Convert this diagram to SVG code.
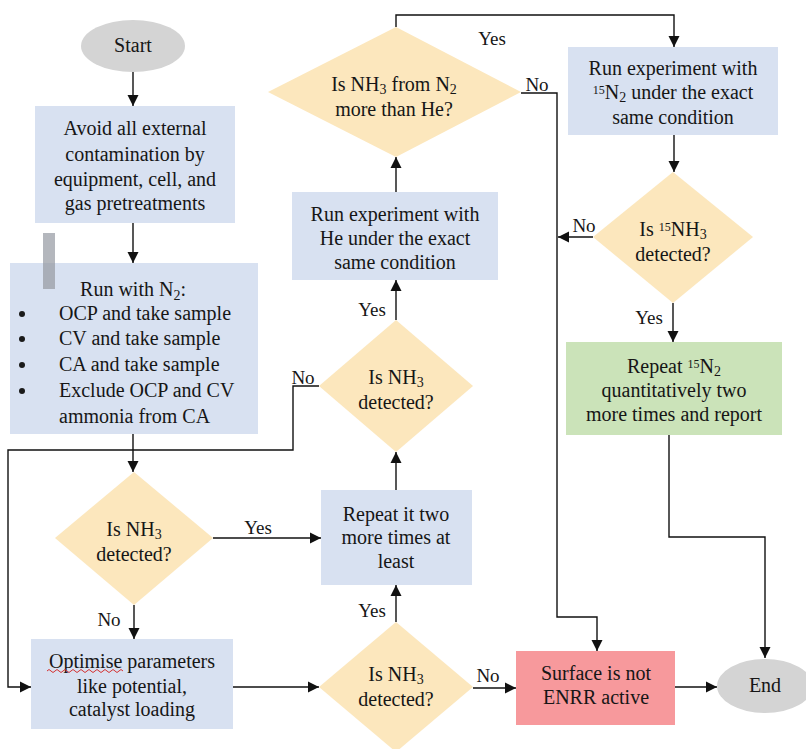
<svg xmlns="http://www.w3.org/2000/svg" width="806" height="749" viewBox="0 0 806 749" font-family="Liberation Serif, Times New Roman, serif">
<style>
.box{fill:#d8e1f1}
.dia{fill:#fce7bd}
.term{fill:#d4d4d4}
.green{fill:#cbe3b9}
.red{fill:#f7999c}
text{font-size:20px;fill:#161616}
.c{text-anchor:middle}
.lbl{font-size:19px}
.conn{fill:none;stroke:#111;stroke-width:1.4}
</style>
<defs>
<marker id="ah" markerUnits="userSpaceOnUse" markerWidth="12" markerHeight="12" refX="11" refY="6" orient="auto">
<path d="M0,0.5 L11,6 L0,11.5 z" fill="#111"/>
</marker>
</defs>
<rect width="806" height="749" fill="#ffffff"/>

<g id="connectors">
<path class="conn" d="M133 72 V106" marker-end="url(#ah)"/>
<path class="conn" d="M133 223 V263" marker-end="url(#ah)"/>
<path class="conn" d="M133 434 V472" marker-end="url(#ah)"/>
<path class="conn" d="M213 538 H321" marker-end="url(#ah)"/>
<path class="conn" d="M134 605 V639" marker-end="url(#ah)"/>
<path class="conn" d="M233 687 H319" marker-end="url(#ah)"/>
<path class="conn" d="M396 622 V585" marker-end="url(#ah)"/>
<path class="conn" d="M396 490 V452" marker-end="url(#ah)"/>
<path class="conn" d="M319 386 H293 V450 H8 V687 H31" marker-end="url(#ah)"/>
<path class="conn" d="M396 320 V280" marker-end="url(#ah)"/>
<path class="conn" d="M396 192 V157" marker-end="url(#ah)"/>
<path class="conn" d="M396 27 V15 H674 V47" marker-end="url(#ah)"/>
<path class="conn" d="M521 93 H557 V617 H597 V651" marker-end="url(#ah)"/>
<path class="conn" d="M674 135 V172" marker-end="url(#ah)"/>
<path class="conn" d="M593 237 H558" marker-end="url(#ah)"/>
<path class="conn" d="M673 303 V342" marker-end="url(#ah)"/>
<path class="conn" d="M669 435 V537 H765 V658" marker-end="url(#ah)"/>
<path class="conn" d="M473 688 H516" marker-end="url(#ah)"/>
<path class="conn" d="M675 687 H717" marker-end="url(#ah)"/>
<text class="lbl c" x="258" y="534">Yes</text>
<text class="lbl c" x="109" y="626">No</text>
<text class="lbl c" x="372" y="617">Yes</text>
<text class="lbl c" x="303" y="384">No</text>
<text class="lbl c" x="372" y="316">Yes</text>
<text class="lbl c" x="492" y="45">Yes</text>
<text class="lbl c" x="537" y="91">No</text>
<text class="lbl c" x="584" y="232">No</text>
<text class="lbl c" x="649" y="324">Yes</text>
<text class="lbl c" x="488" y="682">No</text>
</g>

<g id="start">
<ellipse class="term" cx="133" cy="46" rx="52" ry="26"/>
<text class="c" x="133" y="52">Start</text>
</g>

<g id="avoid">
<rect class="box" x="35" y="106" width="200" height="117"/>
<text class="c" x="135" y="135">Avoid all external</text>
<text class="c" x="135" y="161">contamination by</text>
<text class="c" x="135" y="186">equipment, cell, and</text>
<text class="c" x="135" y="210">gas pretreatments</text>
</g>

<rect x="43" y="233" width="12" height="56" fill="#b4b7bd"/>

<g id="run-n2">
<rect class="box" x="10" y="263" width="248" height="171"/>
<rect x="43" y="263" width="12" height="26" fill="#a9aeb8"/>
<text class="c" x="133" y="296">Run with N<tspan font-size="14" dy="4">2</tspan><tspan dy="-4">:</tspan></text>
<circle cx="22" cy="314" r="3" fill="#1a1a1a"/>
<circle cx="22" cy="339" r="3" fill="#1a1a1a"/>
<circle cx="22" cy="365" r="3" fill="#1a1a1a"/>
<circle cx="22" cy="391" r="3" fill="#1a1a1a"/>
<text x="59" y="320">OCP and take sample</text>
<text x="59" y="345">CV and take sample</text>
<text x="59" y="371">CA and take sample</text>
<text x="59" y="397">Exclude OCP and CV</text>
<text x="59" y="423">ammonia from CA</text>
</g>

<g id="decision-1">
<polygon class="dia" points="134,472 213,538 134,605 55,538"/>
<text class="c" x="134" y="536">Is NH<tspan font-size="14" dy="3">3</tspan></text>
<text class="c" x="134" y="561">detected?</text>
</g>

<g id="optimise">
<rect class="box" x="31" y="639" width="202" height="90"/>
<text class="c" x="132" y="668">Optimise parameters</text>
<path d="M47 671 q2 -3 4 0 t4 0 t4 0 t4 0 t4 0 t4 0 t4 0 t4 0 t4 0 t4 0 t4 0 t4 0 t4 0 t4 0 t4 0 t4 0 t4 0 t4 0 t4 0" fill="none" stroke="#d43030" stroke-width="1"/>
<text class="c" x="132" y="693">like potential,</text>
<text class="c" x="132" y="716">catalyst loading</text>
</g>

<g id="decision-3">
<polygon class="dia" points="396,622 473,687 396,752 319,687"/>
<text class="c" x="396" y="681">Is NH<tspan font-size="14" dy="3">3</tspan></text>
<text class="c" x="396" y="706">detected?</text>
</g>

<g id="repeat">
<rect class="box" x="321" y="490" width="151" height="95"/>
<text class="c" x="396" y="521">Repeat it two</text>
<text class="c" x="396" y="544">more times at</text>
<text class="c" x="396" y="568">least</text>
</g>

<g id="decision-2">
<polygon class="dia" points="396,320 473,386 396,452 319,386"/>
<text class="c" x="396" y="384">Is NH<tspan font-size="14" dy="3">3</tspan></text>
<text class="c" x="396" y="409">detected?</text>
</g>

<g id="run-he">
<rect class="box" x="292" y="192" width="206" height="88"/>
<text class="c" x="395" y="221">Run experiment with</text>
<text class="c" x="395" y="245">He under the exact</text>
<text class="c" x="395" y="269">same condition</text>
</g>

<g id="decision-4">
<polygon class="dia" points="396,27 521,92 396,157 268,92"/>
<text class="c" x="394" y="91">Is NH<tspan font-size="14" dy="3">3</tspan><tspan dy="-3"> from N</tspan><tspan font-size="14" dy="3">2</tspan></text>
<text class="c" x="394" y="116">more than He?</text>
</g>

<g id="run-15n2">
<rect class="box" x="568" y="47" width="210" height="88"/>
<text class="c" x="673" y="75">Run experiment with</text>
<text class="c" x="673" y="99"><tspan font-size="12" dy="-5">15</tspan><tspan dy="5">N</tspan><tspan font-size="14" dy="3">2</tspan><tspan dy="-3"> under the exact</tspan></text>
<text class="c" x="673" y="124">same condition</text>
</g>

<g id="decision-5">
<polygon class="dia" points="673,172 753,237 673,303 593,237"/>
<text class="c" x="673" y="236">Is <tspan font-size="12" dy="-5">15</tspan><tspan dy="5">NH</tspan><tspan font-size="14" dy="3">3</tspan></text>
<text class="c" x="673" y="261">detected?</text>
</g>

<g id="repeat-15n2">
<rect class="green" x="566" y="342" width="216" height="93"/>
<text class="c" x="674" y="373">Repeat <tspan font-size="12" dy="-5">15</tspan><tspan dy="5">N</tspan><tspan font-size="14" dy="3">2</tspan></text>
<text class="c" x="674" y="397">quantitatively two</text>
<text class="c" x="674" y="421">more times and report</text>
</g>

<g id="surface">
<rect class="red" x="516" y="651" width="159" height="74"/>
<text class="c" x="596" y="680">Surface is not</text>
<text class="c" x="596" y="704">ENRR active</text>
</g>

<g id="end">
<ellipse class="term" cx="765" cy="686" rx="48" ry="27"/>
<text class="c" x="765" y="692">End</text>
</g>
</svg>
